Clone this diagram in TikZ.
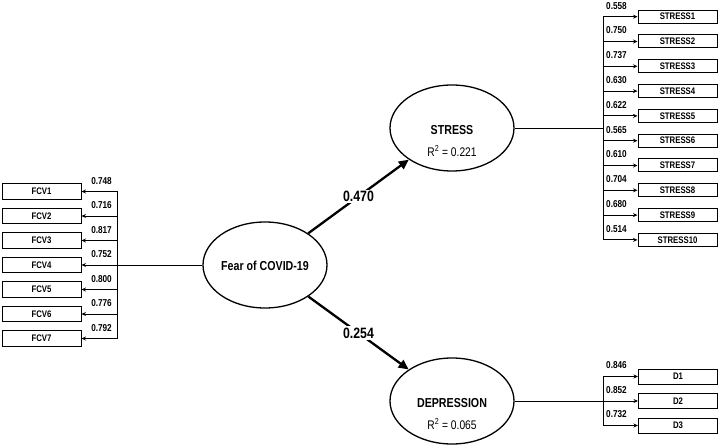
\documentclass[tikz,border=0pt]{standalone}
\usepackage{fontspec}
\setmainfont[FakeStretch=0.82]{Liberation Sans}
\usetikzlibrary{arrows.meta,shapes.geometric}
\begin{document}
\begin{tikzpicture}[x=1pt,y=-1pt,
  latent/.style={draw,ellipse,line width=1.3pt,minimum width=124pt,minimum height=86pt,inner sep=0pt},
  latname/.style={font=\fontsize{13}{15}\selectfont\bfseries,inner sep=0pt},
  rsq/.style={font=\fontsize{12.5}{14}\selectfont,inner sep=0pt},
  indbox/.style={draw,line width=1pt,minimum width=79pt,inner sep=0pt,font=\fontsize{9.5}{10}\selectfont\bfseries},
  loadlbl/.style={font=\fontsize{10}{11}\selectfont\bfseries,inner sep=0pt},
  pathlbl/.style={font=\fontsize{15}{17}\selectfont\bfseries,fill=white,inner sep=1.5pt},
  conn/.style={line width=0.9pt,-{Stealth[length=4.5pt,width=4pt]}},
  bus/.style={line width=0.9pt},
  mainarrow/.style={line width=2.3pt,-{Triangle[length=10pt,width=9pt]}}]
\useasboundingbox (0,0) rectangle (720,446);

% latent variables
\node[latent] (fear) at (265,265) {};
\node[latname] at (265,266) {Fear of COVID-19};
\node[latent] (stress) at (452,128) {};
\node[latname] at (452,130) {STRESS};
\node[rsq] at (452,151) {R\textsuperscript{2} = 0.221};
\node[latent] (dep) at (452,401) {};
\node[latname] at (452,403) {DEPRESSION};
\node[rsq] at (452,424) {R\textsuperscript{2} = 0.065};

% structural paths
\draw[mainarrow] (fear) -- (stress) node[pathlbl,pos=0.5] {0.470};
\draw[mainarrow] (fear) -- (dep) node[pathlbl,pos=0.5] {0.254};

% FCV indicators
\foreach \i/\v [count=\k from 0] in {1/0.748,2/0.716,3/0.817,4/0.752,5/0.800,6/0.776,7/0.792}{
  \pgfmathsetmacro{\yy}{191.5+24.5*\k}
  \node[indbox,minimum height=15.5pt] (fcv\i) at (41.5,\yy) {FCV\i};
  \coordinate (fj\i) at (117,\yy);
  \node[loadlbl,anchor=base east] (fl\i) at (112,\yy-7) {\v};
}
\draw[bus] (fj1) -- (fj7);
\foreach \i in {1,2,3,5,6,7}{\draw[conn] (fj\i) -- (fcv\i);}
\draw[conn] (fear) -- (fcv4);

% STRESS indicators
\foreach \i/\v [count=\k from 0] in {1/0.558,2/0.750,3/0.737,4/0.630,5/0.622,6/0.565,7/0.610,8/0.704,9/0.680,10/0.514}{
  \pgfmathsetmacro{\yy}{16.7+24.8*\k}
  \node[indbox,minimum height=13pt] (s\i) at (677.5,\yy) {STRESS\i};
  \coordinate (sj\i) at (603,\yy);
  \node[loadlbl,anchor=base west] (sl\i) at (606,\yy-7.5) {\v};
  \draw[conn] (sj\i) -- (s\i);
}
\draw[bus] (sj1) -- (sj10);
\coordinate (sjm) at (603,128);
\draw[bus] (stress) -- (sjm);

% DEPRESSION indicators
\foreach \i/\v [count=\k from 0] in {1/0.846,2/0.852,3/0.732}{
  \pgfmathsetmacro{\yy}{376.5+24.5*\k}
  \node[indbox,minimum height=15pt] (d\i) at (678,\yy) {D\i};
  \coordinate (dj\i) at (603,\yy);
  \node[loadlbl,anchor=base west] (dl\i) at (606,\yy-8) {\v};
}
\draw[bus] (dj1) -- (dj3);
\draw[conn] (dj1) -- (d1);
\draw[conn] (dj3) -- (d3);
\draw[conn] (dep) -- (d2);
\end{tikzpicture}
\end{document}
